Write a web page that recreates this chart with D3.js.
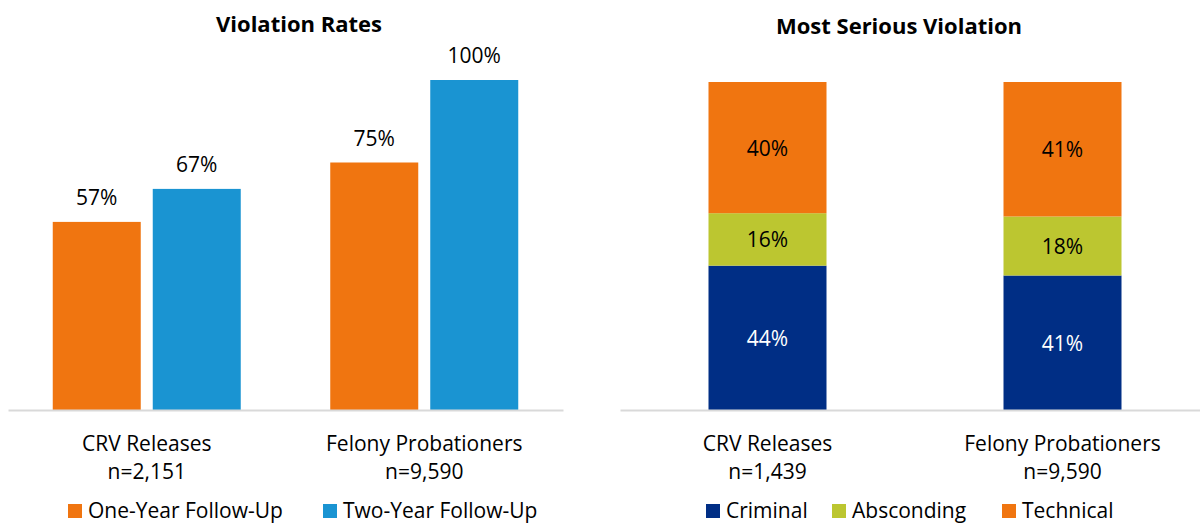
<!DOCTYPE html>
<html>
<head>
<meta charset="utf-8">
<script src="https://cdn.jsdelivr.net/npm/d3@7"></script>
<style>
  body { margin: 0; background: #fff; }
  svg text { font-family: "Open Sans", sans-serif; fill: #000; }
  .title { font-weight: bold; font-size: 22px; }
  .lbl { font-size: 21px; }
</style>
</head>
<body>
<svg width="1200" height="523"></svg>
<script>
// left chart data
const rateGroups = ["CRV Releases", "Felony Probationers"];
const rateSizes = ["n=2,151", "n=9,590"];
const rateSeries = ["One-Year Follow-Up", "Two-Year Follow-Up"];
const oneYear = [57, 75];
const twoYear = [67, 100];

// right chart data
const seriousGroups = ["CRV Releases", "Felony Probationers"];
const seriousSizes = ["n=1,439", "n=9,590"];
const seriousSeries = ["Criminal", "Absconding", "Technical"];
const criminal = [44, 41];
const absconding = [16, 18];
const technical = [40, 41];

const svg = d3.select("svg");

// ---------- left: grouped bars ----------
const baseY = 410;
const left = svg.append("g");
const x0 = d3.scaleBand().domain(rateGroups).range([8, 563]);
const x1 = d3.scaleBand().domain(rateSeries).range([0, 188]).paddingInner(0.12);
const yL = d3.scaleLinear().domain([0, 100]).range([baseY, 80]);
const rateColor = d3.scaleOrdinal().domain(rateSeries).range(["#F07510", "#1A94D2"]);

const rateRows = rateGroups.map((g, i) => ({
  group: g,
  values: [
    { key: rateSeries[0], value: oneYear[i] },
    { key: rateSeries[1], value: twoYear[i] }
  ]
}));

left.append("text")
  .attr("class", "title")
  .attr("x", 299).attr("y", 32)
  .attr("text-anchor", "middle")
  .text("Violation Rates");

const groupL = left.selectAll(".grp")
  .data(rateRows)
  .enter()
  .append("g")
  .attr("transform", d => "translate(" + (x0(d.group) + x0.bandwidth() / 2 - 94) + ",0)");

groupL.selectAll("rect")
  .data(d => d.values)
  .enter()
  .append("rect")
  .attr("x", d => x1(d.key))
  .attr("width", x1.bandwidth())
  .attr("y", d => yL(d.value))
  .attr("height", d => baseY - yL(d.value))
  .attr("fill", d => rateColor(d.key));

groupL.selectAll("text")
  .data(d => d.values)
  .enter()
  .append("text")
  .attr("class", "lbl")
  .attr("x", d => x1(d.key) + x1.bandwidth() / 2)
  .attr("y", d => yL(d.value) - 17)
  .attr("text-anchor", "middle")
  .text(d => d.value + "%");

const axisL = left.append("g")
  .attr("transform", "translate(0," + baseY + ")")
  .call(d3.axisBottom(x0).tickSize(0).tickPadding(0).tickFormat(""));
axisL.select(".domain").attr("stroke", "#D9D9D9").attr("stroke-width", 2);

left.selectAll(".cat")
  .data(rateGroups)
  .enter()
  .append("text")
  .attr("class", "lbl")
  .attr("x", d => x0(d) + x0.bandwidth() / 2)
  .attr("y", 451)
  .attr("text-anchor", "middle")
  .text(d => d);

left.selectAll(".n")
  .data(rateSizes)
  .enter()
  .append("text")
  .attr("class", "lbl")
  .attr("x", (d, i) => x0(rateGroups[i]) + x0.bandwidth() / 2)
  .attr("y", 479)
  .attr("text-anchor", "middle")
  .text(d => d);

// legend
const legL = left.selectAll(".leg")
  .data(rateSeries)
  .enter()
  .append("g")
  .attr("transform", (d, i) => "translate(" + [68, 323][i] + ",504)");
legL.append("rect").attr("width", 14).attr("height", 14).attr("fill", d => rateColor(d));
legL.append("text").attr("class", "lbl").attr("x", 20).attr("y", 14).text(d => d);

// ---------- right: stacked bars ----------
const right = svg.append("g");
const xS = d3.scaleBand().domain(seriousGroups).range([620, 1210]).paddingInner(0.6).paddingOuter(0.3);
const yR = d3.scaleLinear().domain([0, 100]).range([baseY, 82]);
const seriousColor = d3.scaleOrdinal().domain(seriousSeries).range(["#002E85", "#BCC630", "#F07510"]);

const stackRows = seriousGroups.map((g, i) => ({
  group: g, Criminal: criminal[i], Absconding: absconding[i], Technical: technical[i]
}));
const stacked = d3.stack().keys(seriousSeries)(stackRows);

right.append("text")
  .attr("class", "title")
  .attr("x", 899).attr("y", 34)
  .attr("text-anchor", "middle")
  .text("Most Serious Violation");

const layer = right.selectAll(".layer")
  .data(stacked)
  .enter()
  .append("g")
  .attr("fill", d => seriousColor(d.key));

layer.selectAll("rect")
  .data(d => d)
  .enter()
  .append("rect")
  .attr("x", d => xS(d.data.group))
  .attr("width", xS.bandwidth())
  .attr("y", d => yR(d[1]))
  .attr("height", d => yR(d[0]) - yR(d[1]));

layer.selectAll("text")
  .data(d => d.map(p => ({ p: p, key: d.key })))
  .enter()
  .append("text")
  .attr("class", "lbl")
  .attr("x", d => xS(d.p.data.group) + xS.bandwidth() / 2)
  .attr("y", d => (yR(d.p[0]) + yR(d.p[1])) / 2 + 8)
  .attr("text-anchor", "middle")
  .style("fill", d => d.key === "Criminal" ? "#fff" : "#000")
  .text(d => (d.p[1] - d.p[0]) + "%");

const axisR = right.append("g")
  .attr("transform", "translate(0," + baseY + ")")
  .call(d3.axisBottom(xS).tickSize(0).tickFormat(""));
axisR.select(".domain").attr("stroke", "#D9D9D9").attr("stroke-width", 2);

right.selectAll(".cat")
  .data(seriousGroups)
  .enter()
  .append("text")
  .attr("class", "lbl")
  .attr("x", d => xS(d) + xS.bandwidth() / 2)
  .attr("y", 451)
  .attr("text-anchor", "middle")
  .text(d => d);

right.selectAll(".n")
  .data(seriousSizes)
  .enter()
  .append("text")
  .attr("class", "lbl")
  .attr("x", (d, i) => xS(seriousGroups[i]) + xS.bandwidth() / 2)
  .attr("y", 479)
  .attr("text-anchor", "middle")
  .text(d => d);

const legR = right.selectAll(".leg")
  .data(seriousSeries)
  .enter()
  .append("g")
  .attr("transform", (d, i) => "translate(" + [706, 832, 1002][i] + ",504)");
legR.append("rect").attr("width", 14).attr("height", 14).attr("fill", d => seriousColor(d));
legR.append("text").attr("class", "lbl").attr("x", 20).attr("y", 14).text(d => d);
</script>
</body>
</html>
